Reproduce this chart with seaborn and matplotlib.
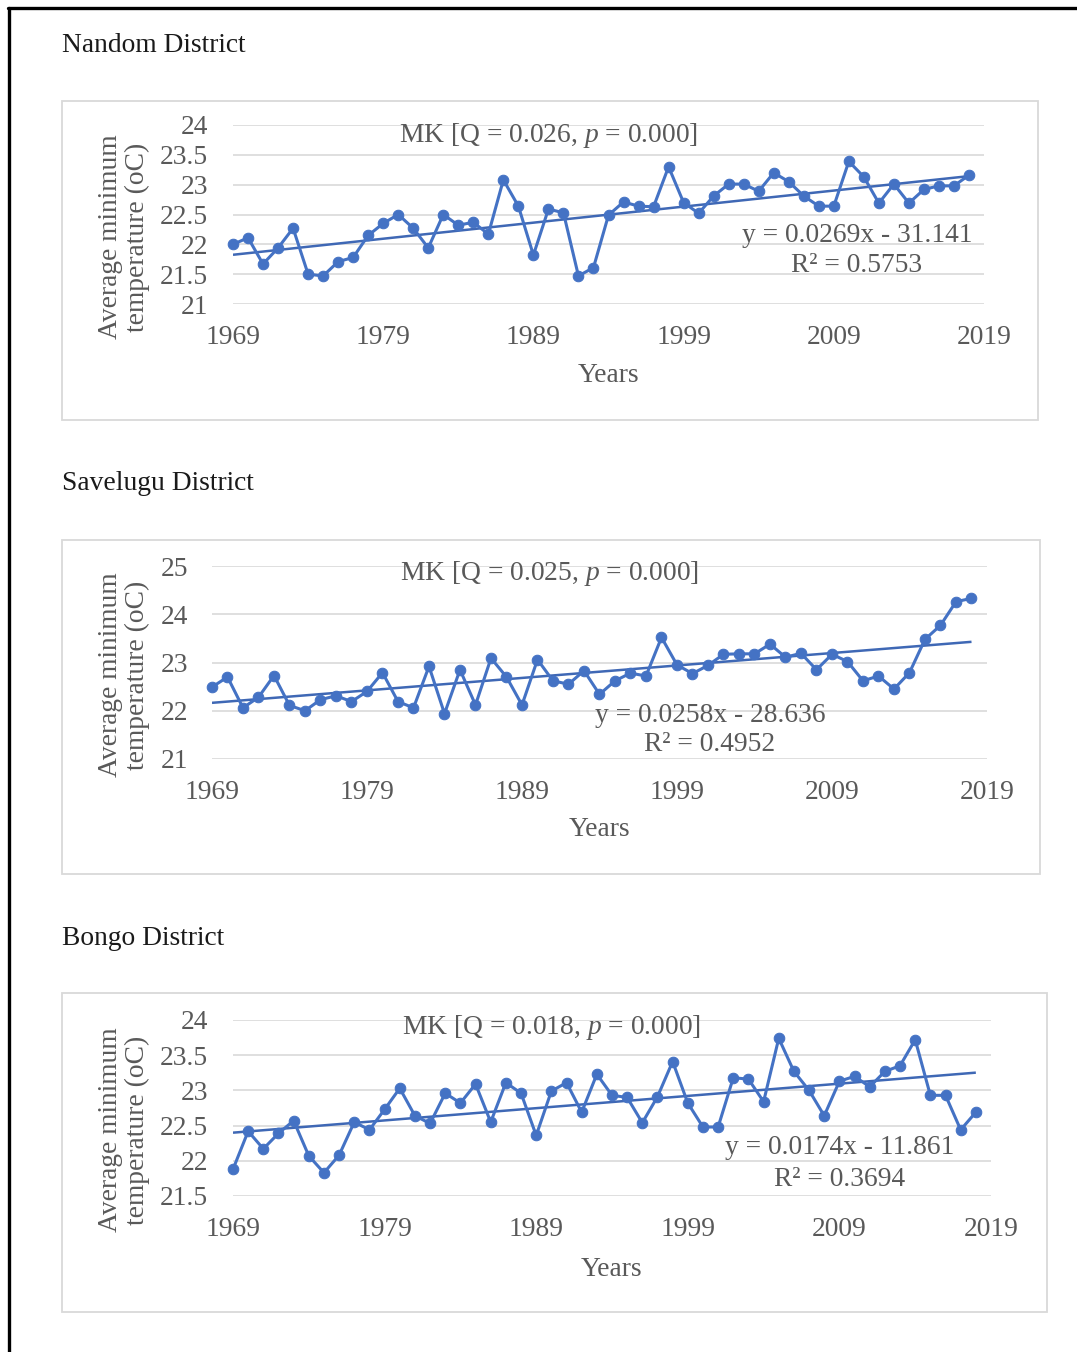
import numpy as np
import pandas as pd
import matplotlib
matplotlib.use("Agg")
import matplotlib.pyplot as plt
from matplotlib.patches import Rectangle
from matplotlib.lines import Line2D
import seaborn as sns

# ---------------- data ----------------
years = list(range(1969, 2019))

nandom = [22.00, 22.11, 21.67, 21.94, 22.27, 21.50, 21.47, 21.71, 21.78, 22.15,
          22.35, 22.50, 22.27, 21.94, 22.50, 22.32, 22.37, 22.17, 23.08, 22.64,
          21.82, 22.59, 22.53, 21.47, 21.61, 22.49, 22.71, 22.64, 22.63, 23.30,
          22.70, 22.52, 22.81, 23.01, 23.01, 22.89, 23.20, 23.05, 22.81, 22.64,
          22.64, 23.39, 23.13, 22.69, 23.01, 22.69, 22.92, 22.98, 22.98, 23.16]

savelugu = [22.49, 22.70, 22.06, 22.28, 22.73, 22.11, 22.00, 22.23, 22.31, 22.19,
            22.40, 22.79, 22.19, 22.06, 22.92, 21.94, 22.85, 22.12, 23.09, 22.70,
            22.12, 23.06, 22.62, 22.55, 22.83, 22.34, 22.62, 22.78, 22.72, 23.52,
            22.95, 22.77, 22.94, 23.17, 23.18, 23.18, 23.38, 23.11, 23.19, 22.85,
            23.17, 23.02, 22.62, 22.72, 22.45, 22.79, 23.48, 23.77, 24.26, 24.33]

bongo = [21.88, 22.42, 22.17, 22.39, 22.57, 22.07, 21.83, 22.08, 22.55, 22.44,
         22.73, 23.03, 22.64, 22.53, 22.96, 22.82, 23.09, 22.55, 23.11, 22.96,
         22.36, 22.99, 23.11, 22.69, 23.23, 22.93, 22.90, 22.54, 22.91, 23.41,
         22.82, 22.48, 22.48, 23.18, 23.16, 22.84, 23.74, 23.27, 23.00, 22.64,
         23.13, 23.20, 23.05, 23.27, 23.35, 23.72, 22.93, 22.93, 22.44, 22.69]

districts = ["Nandom District", "Savelugu District", "Bongo District"]
series = [nandom, savelugu, bongo]
slopes = [0.0269, 0.0258, 0.0174]
intercepts = [-31.141, -28.636, -11.861]
r_squared = ["0.5753", "0.4952", "0.3694"]
mk_q = ["0.026", "0.025", "0.018"]
mk_p = ["0.000", "0.000", "0.000"]
x_ticks = [1969, 1979, 1989, 1999, 2009, 2019]
y_ticks = [[21, 21.5, 22, 22.5, 23, 23.5, 24],
           [21, 22, 23, 24, 25],
           [21.5, 22, 22.5, 23, 23.5, 24]]
y_ticklabels = [["21", "21.5", "22", "22.5", "23", "23.5", "24"],
                ["21", "22", "23", "24", "25"],
                ["21.5", "22", "22.5", "23", "23.5", "24"]]

# ---------------- layout (pixels) ----------------
W, H = 1077, 1352
# axes: left, right, top, bottom
axes_px = [(233, 984, 125, 304), (212, 987, 566, 759), (233, 991, 1020, 1196)]
# panel frames: left, top, right, bottom
frames_px = [(62, 101, 1038, 420), (62, 540, 1040, 874), (62, 993, 1047, 1312)]
title_px = [(62, 52), (62, 490), (62, 945)]
mk_px = [(549, 135), (550, 573), (552, 1027)]
eq_px = [(857, 235, 266), (710, 715, 745), (840, 1148, 1179)]
ylab_px = [(124, 237), (124, 675), (124, 1130)]
xlab_dy = [72, 71, 73]

BLUE = "#4472C4"
GRAY_TXT = "#595959"
GRID = "#D9D9D9"
FS = 19.8

sns.set_theme(style="white")
plt.rcParams["font.family"] = ["Liberation Serif", "DejaVu Serif"]
plt.rcParams["mathtext.fontset"] = "custom"
plt.rcParams["mathtext.rm"] = "Liberation Serif"
plt.rcParams["mathtext.it"] = "Liberation Serif:italic"


def fx(x):
    return x / W


def fy(y):
    return 1 - y / H


fig = plt.figure(figsize=(W / 100, H / 100), dpi=100)
fig.patch.set_facecolor("white")

# outer black border (left and top edges)
fig.add_artist(Line2D([fx(8.5), fx(8.5)], [fy(7.5), fy(H + 5)], color="black", lw=2.4))
fig.add_artist(Line2D([fx(7.5), fx(W + 5)], [fy(7.5), fy(7.5)], color="black", lw=2.4))

for i in range(3):
    l, r, t, b = axes_px[i]
    ax = fig.add_axes([fx(l), fy(b), fx(r - l), (b - t) / H])

    # panel frame
    fl, ft, fr, fb = frames_px[i]
    fig.add_artist(Rectangle((fx(fl), fy(fb)), fx(fr - fl), (fb - ft) / H,
                             fill=False, edgecolor=GRID, lw=1.3))

    df = pd.DataFrame({"Year": years, "Tmin": series[i]})
    sns.lineplot(data=df, x="Year", y="Tmin", ax=ax, color=BLUE, lw=2.2,
                 marker="o", markersize=7.6, markeredgecolor=BLUE,
                 markerfacecolor=BLUE, clip_on=False, zorder=3)

    # linear trend from the stated equation
    tx = np.array([years[0], years[-1]])
    ty = slopes[i] * tx + intercepts[i]
    ax.plot(tx, ty, color="#3F68B5", lw=1.8, zorder=2, solid_capstyle="butt")

    ax.set_xlim(1969, 2019)
    ax.set_ylim(y_ticks[i][0], y_ticks[i][-1])
    ax.set_xticks(x_ticks)
    ax.set_xticklabels([str(v) for v in x_ticks])
    ax.set_yticks(y_ticks[i])
    ax.set_yticklabels(y_ticklabels[i])
    ax.tick_params(axis="both", length=0, labelsize=FS, labelcolor=GRAY_TXT)
    ax.tick_params(axis="y", pad=18 if i != 1 else 17)
    ax.tick_params(axis="x", pad=15)
    for s in ax.spines.values():
        s.set_visible(False)
    ax.grid(axis="y", color=GRID, lw=1.2)
    ax.grid(axis="x", visible=False)
    ax.set_axisbelow(True)
    ax.set_facecolor("none")
    ax.set_xlabel("")
    ax.set_ylabel("")

    # texts
    tx0, ty0 = title_px[i]
    fig.text(fx(tx0), fy(ty0), districts[i], fontsize=FS, color="#1A1A1A",
             ha="left", va="baseline")
    mx, my = mk_px[i]
    fig.text(fx(mx), fy(my), f"MK [Q = {mk_q[i]}, $p$ = {mk_p[i]}]",
             fontsize=FS, color=GRAY_TXT, ha="center", va="center")
    ex, ey1, ey2 = eq_px[i]
    fig.text(fx(ex), fy(ey1), f"y = {slopes[i]}x - {abs(intercepts[i]):.3f}",
             fontsize=FS, color=GRAY_TXT, ha="center", va="center")
    fig.text(fx(ex), fy(ey2), f"R² = {r_squared[i]}",
             fontsize=FS, color=GRAY_TXT, ha="center", va="center")
    yx, yy = ylab_px[i]
    fig.text(fx(yx), fy(yy), "Average minimum\ntemperature (oC)", rotation=90,
             fontsize=FS, color=GRAY_TXT, ha="center", va="center",
             multialignment="center", linespacing=1.12)
    fig.text(fx((l + r) / 2), fy(b + xlab_dy[i]), "Years", fontsize=FS,
             color=GRAY_TXT, ha="center", va="center")

fig.savefig("out.png", dpi=100, facecolor="white")
